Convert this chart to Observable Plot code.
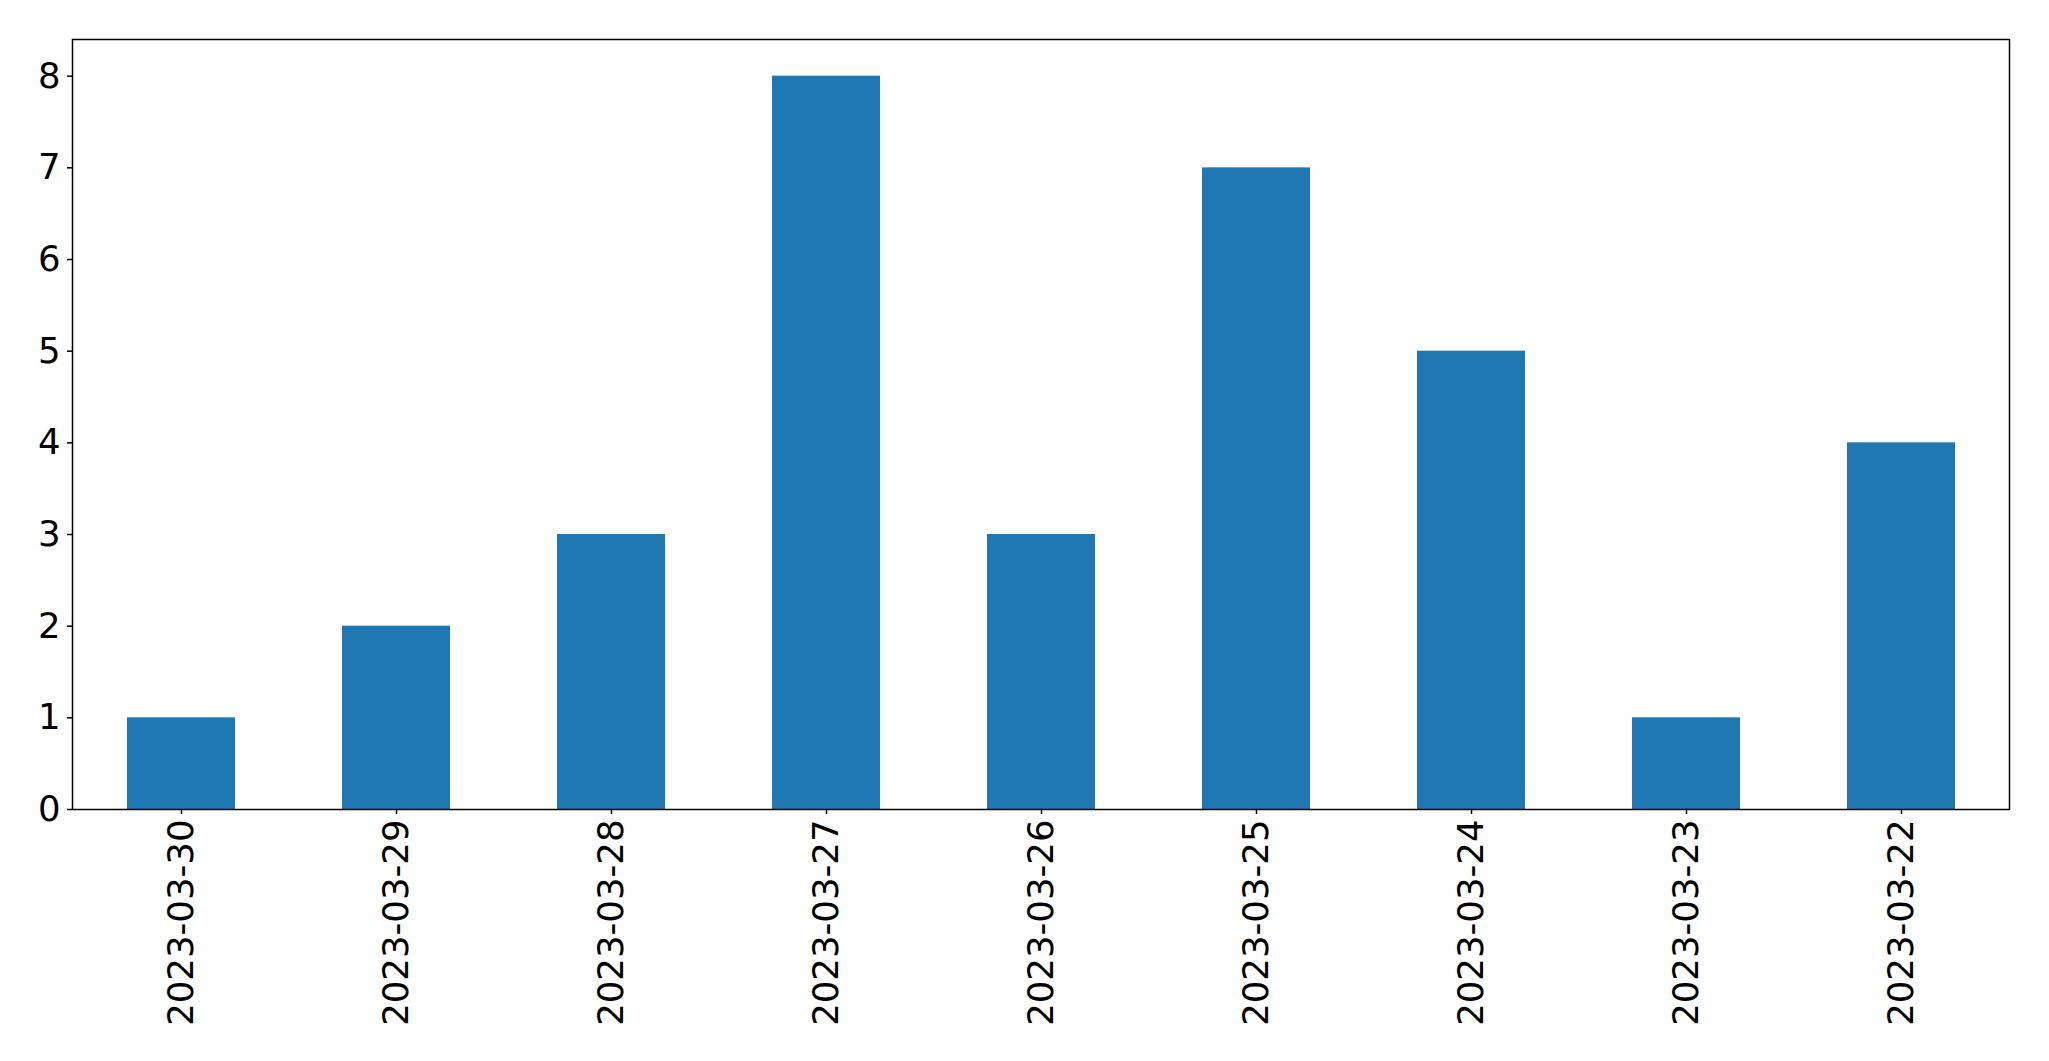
<!DOCTYPE html>
<html>
<head>
<meta charset="utf-8">
<script src="https://cdn.jsdelivr.net/npm/d3@7"></script>
<script src="https://cdn.jsdelivr.net/npm/@observablehq/plot@0.6"></script>
<style>
  html, body { margin: 0; padding: 0; background: #fff; }
</style>
</head>
<body>
<div id="chart"></div>
<script>
const dates = ["2023-03-30","2023-03-29","2023-03-28","2023-03-27","2023-03-26","2023-03-25","2023-03-24","2023-03-23","2023-03-22"];
const counts = [1, 2, 3, 8, 3, 7, 5, 1, 4];
const yTicks = [0, 1, 2, 3, 4, 5, 6, 7, 8];

const data = dates.map((d, i) => ({date: d, count: counts[i]}));

const chart = Plot.plot({
  width: 2049,
  height: 1061,
  marginLeft: 72,
  marginRight: 40,
  marginTop: 39,
  marginBottom: 252,
  style: {fontFamily: "DejaVu Sans", fontSize: "35.5px", color: "#000", background: "#fff"},
  x: {domain: dates, paddingInner: 0.5, paddingOuter: 0.25, align: 0.5, label: null},
  y: {domain: [0, 8.4], label: null},
  marks: [
    Plot.barY(data, {x: "date", y: "count", fill: "#1f77b4"}),
    Plot.axisY({ticks: yTicks, tickSize: 5, tickPadding: 7, fontSize: 35.5, strokeWidth: 1.5, label: null}),
    Plot.axisX({tickRotate: -90, tickSize: 5, tickPadding: 5, fontSize: 35.5, strokeWidth: 1.5, label: null}),
    Plot.frame({stroke: "#000", strokeWidth: 1.5})
  ]
});
document.getElementById("chart").appendChild(chart);
</script>
</body>
</html>
